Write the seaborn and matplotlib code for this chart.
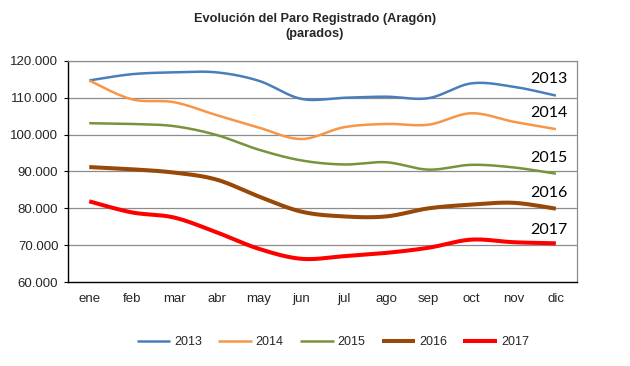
import numpy as np
import pandas as pd
import matplotlib
matplotlib.use("Agg")
import matplotlib.pyplot as plt
import seaborn as sns

months = ["ene", "feb", "mar", "abr", "may", "jun", "jul", "ago", "sep", "oct", "nov", "dic"]
years = ["2013", "2014", "2015", "2016", "2017"]
v2013 = [114.7, 116.4, 116.9, 116.9, 114.6, 109.7, 110.0, 110.3, 109.9, 113.9, 113.0, 110.6]
v2014 = [114.7, 109.6, 108.8, 105.3, 101.9, 98.8, 102.0, 102.9, 102.7, 105.8, 103.5, 101.5]
v2015 = [103.1, 102.9, 102.3, 99.9, 95.9, 93.0, 91.9, 92.5, 90.5, 91.8, 91.1, 89.4]
v2016 = [91.2, 90.6, 89.7, 87.8, 83.2, 79.1, 77.8, 77.8, 80.0, 81.0, 81.5, 79.9]
v2017 = [81.9, 78.9, 77.5, 73.5, 69.0, 66.3, 67.0, 67.9, 69.3, 71.5, 70.8, 70.5]
series = [v2013, v2014, v2015, v2016, v2017]
ytick_vals = [60, 70, 80, 90, 100, 110, 120]
ytick_labels = ["60.000", "70.000", "80.000", "90.000", "100.000", "110.000", "120.000"]

colors = ["#4A7EBB", "#F79646", "#77933C", "#984807", "#FF0000"]
widths = [1.8, 1.8, 1.8, 2.9, 2.9]
label_y = [115.2, 105.9, 93.6, 84.2, 74.1]


def smooth(y, n=20):
    # Catmull-Rom style cubic Bezier smoothing through the points (display only)
    y = np.asarray(y, float)
    x = np.arange(len(y), dtype=float)
    pts = np.column_stack([x, y])
    out = []
    for i in range(len(pts) - 1):
        p0 = pts[i - 1] if i > 0 else pts[i]
        p1 = pts[i]
        p2 = pts[i + 1]
        p3 = pts[i + 2] if i + 2 < len(pts) else pts[i + 1]
        c1 = p1 + (p2 - p0) / 6.0
        c2 = p2 - (p3 - p1) / 6.0
        t = np.linspace(0, 1, n, endpoint=(i == len(pts) - 2))[:, None]
        b = ((1 - t) ** 3) * p1 + 3 * ((1 - t) ** 2) * t * c1 + 3 * (1 - t) * t ** 2 * c2 + t ** 3 * p2
        out.append(b)
    out = np.vstack(out)
    return out[:, 0], out[:, 1]


sns.set_theme(style="white")
plt.rcParams["font.family"] = ["Liberation Sans", "DejaVu Sans"]

fig = plt.figure(figsize=(6.3, 3.66), dpi=100)
ax = fig.add_axes([0.108, 0.2295, 0.808, 0.604])

frames = []
for yr, vals in zip(years, series):
    xs, ys = smooth(vals)
    frames.append(pd.DataFrame({"x": xs, "y": ys, "year": yr}))
df = pd.concat(frames, ignore_index=True)

for yr, c, lw in zip(years, colors, widths):
    sns.lineplot(data=df[df["year"] == yr], x="x", y="y", color=c, linewidth=lw,
                 ax=ax, label=yr, sort=False, solid_capstyle="butt")

ax.set_xlim(-0.5, 11.5)
ax.set_ylim(60, 120)
ax.set_xticks(range(len(months)))
ax.set_xticklabels(months, fontsize=9.5)
ax.set_yticks(ytick_vals)
ax.set_yticklabels(ytick_labels, fontsize=9.5)
ax.set_xlabel("")
ax.set_ylabel("")
ax.tick_params(axis="y", length=3, width=0.8, color="black", direction="out", pad=4, left=True)
ax.tick_params(axis="x", length=0, pad=8)
for yv in ytick_vals[1:]:
    ax.axhline(yv, color="#8C8C8C", linewidth=0.9, zorder=0)
for s in ["top", "right"]:
    ax.spines[s].set_color("#8C8C8C")
    ax.spines[s].set_linewidth(0.9)
for s in ["left", "bottom"]:
    ax.spines[s].set_color("black")
    ax.spines[s].set_linewidth(1.0)

for yr, ly in zip(years, label_y):
    ax.text(11.27, ly, yr, ha="right", va="center", fontsize=11.5, family=["Lato", "DejaVu Sans"], color="black")

leg = ax.legend(loc="upper center", bbox_to_anchor=(0.52, -0.195), ncol=5, frameon=False,
                fontsize=9, handlelength=2.7, columnspacing=1.3, handletextpad=0.3)

fig.text(0.5, 0.948, "Evolución del Paro Registrado (Aragón)", ha="center", va="center",
         fontsize=9.2, fontweight="bold")
fig.text(0.5, 0.906, "(parados)", ha="center", va="center", fontsize=9.2, fontweight="bold")

fig.savefig("out.png", dpi=100)
